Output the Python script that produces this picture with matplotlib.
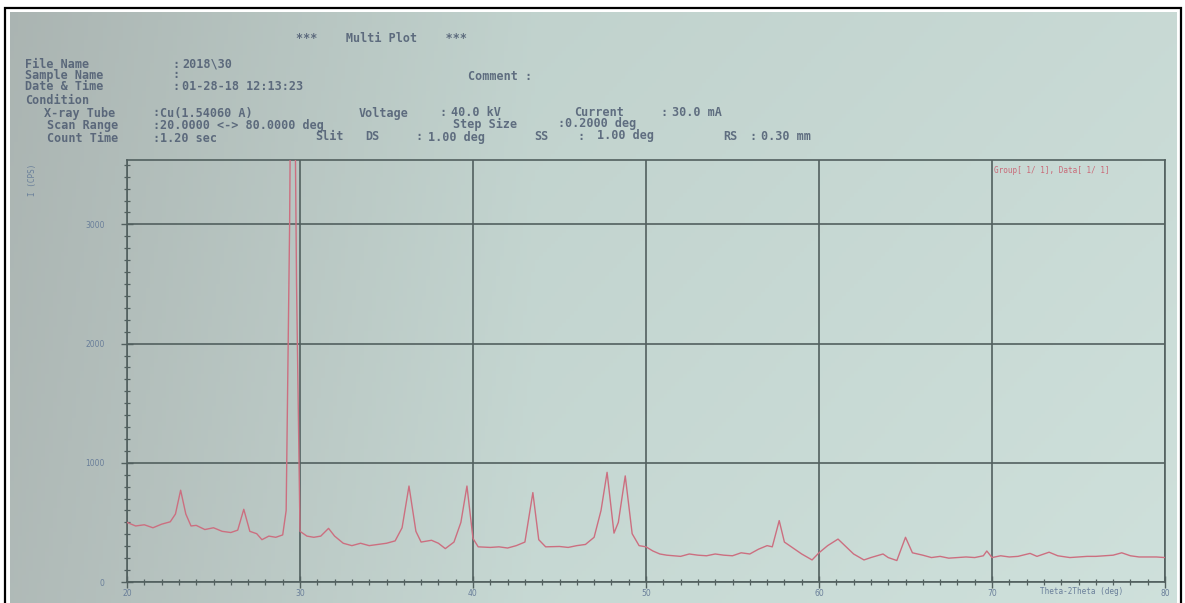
import matplotlib
matplotlib.use("Agg")
import matplotlib.pyplot as plt
import numpy as np
from matplotlib.patches import Rectangle

# ---- data -------------------------------------------------------------
two_theta = [
    20.0, 20.5, 21.0, 21.5, 22.0, 22.5, 22.8, 23.1, 23.4, 23.7,
    24.0, 24.5, 25.0, 25.5, 26.0, 26.4, 26.75, 27.1, 27.5, 27.8,
    28.2, 28.6, 29.0, 29.2, 29.4, 29.5, 29.65, 29.8, 30.0, 30.4,
    30.8, 31.2, 31.65, 32.0, 32.5, 33.0, 33.5, 34.0, 34.5, 35.0,
    35.5, 35.9, 36.3, 36.7, 37.0, 37.6, 38.0, 38.4, 38.9, 39.3,
    39.65, 40.0, 40.3, 41.0, 41.5, 42.0, 42.5, 43.0, 43.46, 43.8,
    44.2, 45.0, 45.5, 46.0, 46.5, 47.0, 47.4, 47.75, 48.15, 48.4,
    48.8, 49.2, 49.6, 50.0, 50.4, 50.8, 51.2, 52.0, 52.5, 53.0,
    53.5, 54.0, 54.5, 55.0, 55.5, 56.0, 56.5, 57.0, 57.3, 57.7,
    58.0, 58.5, 59.0, 59.6, 60.0, 60.5, 61.1, 61.5, 62.0, 62.6,
    63.0, 63.7, 64.0, 64.5, 65.0, 65.4, 66.0, 66.5, 67.0, 67.5,
    68.0, 68.5, 69.0, 69.5, 69.7, 70.0, 70.5, 71.0, 71.5, 72.2,
    72.6, 73.3, 73.8, 74.5, 75.0, 75.5, 76.0, 76.5, 77.0, 77.5,
    78.0, 78.5, 79.0, 79.5, 80.0,
]
intensity = [
    500, 470, 480, 455, 485, 505, 570, 770, 570, 470,
    475, 440, 455, 425, 415, 435, 610, 425, 405, 355,
    385, 375, 395, 600, 3000, 5000, 5000, 2500, 425, 385,
    375, 385, 450, 385, 325, 305, 325, 305, 315, 325,
    345, 455, 805, 425, 335, 350, 325, 280, 335, 500,
    805, 365, 295, 290, 295, 285, 305, 335, 750, 355,
    295, 298, 290, 305, 315, 375, 600, 920, 410, 500,
    890, 405, 305, 295, 260, 235, 225, 215, 235, 225,
    220, 235, 225, 220, 245, 235, 275, 305, 295, 515,
    335, 285, 235, 185, 245, 305, 360, 305, 235, 185,
    205, 235, 205, 180, 375, 245, 225, 205, 215, 200,
    205, 210, 205, 220, 260, 205, 220, 210, 215, 240,
    215, 250, 220, 205, 210, 215, 215, 220, 225, 245,
    220, 210, 210, 210, 205,
]

x_major = [20, 30, 40, 50, 60, 70, 80]
y_major = [0, 1000, 2000, 3000]

header_rows = [
    # (x px, y px, text)
    (296, 38, "***    Multi Plot    ***"),
    (25, 64, "File Name"), (172, 64, ":"), (182, 64, "2018\\30"),
    (25, 75, "Sample Name"), (172, 75, ":"),
    (468, 77, "Comment :"),
    (25, 87, "Date & Time"), (172, 87, ":"), (182, 87, "01-28-18 12:13:23"),
    (25, 100, "Condition"),
    (44, 113, "X-ray Tube"), (152, 113, ":"), (160, 113, "Cu(1.54060 A)"),
    (359, 113, "Voltage"), (439, 113, ":"), (451, 113, "40.0 kV"),
    (574, 112, "Current"), (660, 112, ":"), (672, 112, "30.0 mA"),
    (47, 125, "Scan Range"), (152, 125, ":"),
    (160, 125, "20.0000 <-> 80.0000 deg"),
    (453, 124, "Step Size"), (557, 124, ":"), (565, 124, "0.2000 deg"),
    (47, 138, "Count Time"), (152, 138, ":"), (160, 138, "1.20 sec"),
    (315, 137, "Slit"), (365, 137, "DS"), (415, 137, ":"),
    (428, 137, "1.00 deg"), (534, 137, "SS"), (577, 136, ":"),
    (597, 136, "1.00 deg"), (723, 136, "RS"), (749, 136, ":"),
    (761, 136, "0.30 mm"),
]

W, H = 1185, 603
fig = plt.figure(figsize=(W / 100, H / 100), dpi=100)
fig.patch.set_facecolor("white")

# ---- photo-like paper background (vignette) ---------------------------
bg = fig.add_axes([10 / W, 0, 1167 / W, 1 - 12 / H], zorder=0)
gx = np.linspace(0, 1, 300)
gy = np.linspace(0, 1, 150)
GX, GY = np.meshgrid(gx, gy)
left = np.array([0.69, 0.73, 0.72])
mid = np.array([0.78, 0.85, 0.83])
right = np.array([0.81, 0.88, 0.86])
t = np.clip(GX / 0.45, 0, 1)[..., None]
col = left * (1 - t) + mid * t
t2 = np.clip((GX - 0.45) / 0.55, 0, 1)[..., None]
col = col * (1 - t2) + right * t2
col = col * (0.97 + 0.03 * GY[..., None])
bg.imshow(np.clip(col, 0, 1), aspect="auto", extent=(0, 1, 0, 1),
          origin="upper")
bg.set_axis_off()

# black frame around the photo
fig.patches.append(Rectangle((5 / W, -0.05), 1176 / W, 1 - 8 / H + 0.05,
                             transform=fig.transFigure, fill=False,
                             edgecolor="black", linewidth=1.6, zorder=1))

# ---- main plot --------------------------------------------------------
ax = fig.add_axes([127 / W, 1 - 582 / H, (1165 - 127) / W, (582 - 160) / H],
                  zorder=2)
ax.set_facecolor("none")
ax.set_xlim(20, 80)
ax.set_ylim(0, 3540)

grid_col = "#52605f"
ax.set_xticks(x_major)
ax.set_yticks(y_major)
ax.set_xticks(np.arange(20, 81, 1), minor=True)
ax.set_yticks(np.arange(0, 3501, 100), minor=True)
ax.grid(True, which="major", color=grid_col, linewidth=1.2)
for s in ax.spines.values():
    s.set_edgecolor(grid_col)
    s.set_linewidth(1.2)

lab_col = "#6a7f9a"
ax.tick_params(axis="both", which="major", colors=grid_col, labelcolor=lab_col,
               labelsize=5.5, direction="inout", length=8, width=1)
ax.tick_params(axis="both", which="minor", colors=grid_col,
               direction="inout", length=4, width=0.9)
ax.tick_params(axis="x", pad=1)
ax.tick_params(axis="y", pad=12)

ax.plot(two_theta, intensity, color="#cc6f80", linewidth=1.0, zorder=3)

ax.text(0.835, 0.985, "Group[ 1/ 1], Data[ 1/ 1]", transform=ax.transAxes,
        color="#c96a78", fontsize=5.5, family="DejaVu Sans Mono",
        ha="left", va="top")
fig.text(1040 / W, 1 - 592 / H, "Theta-2Theta (deg)", color=lab_col,
         fontsize=5.5, family="DejaVu Sans Mono", va="center")
fig.text(33 / W, 1 - 180 / H, "I (CPS)", color=lab_col, fontsize=5.5,
         family="DejaVu Sans Mono", rotation=90, ha="center", va="center")

# ---- printed header ---------------------------------------------------
for px, py, txt in header_rows:
    fig.text(px / W, 1 - py / H, txt, color="#46546c", fontsize=8.5,
             family="DejaVu Sans Mono", fontweight="bold",
             ha="left", va="center", alpha=0.8)

fig.savefig("out.png", dpi=100)
